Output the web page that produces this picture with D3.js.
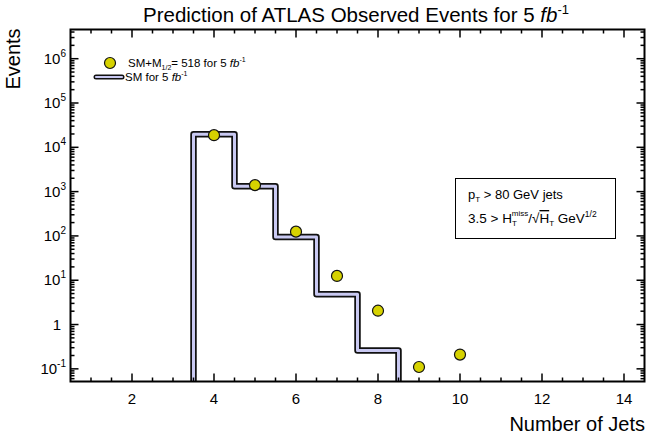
<!doctype html>
<html lang="en">
<head>
<meta charset="UTF-8">
<script src="https://cdnjs.cloudflare.com/ajax/libs/d3/7.8.5/d3.min.js"></script>
<title>ATLAS jets</title>
<style>
  body { margin: 0; background: #fff; }
  text { font-family: "Liberation Sans", Arial, sans-serif; fill: #000; }
</style>
</head>
<body>
<div id="chart"></div>
<script>
    // SM histogram, bins of one jet
    const smBinEdges = [3.5, 4.5, 5.5, 6.5, 7.5, 8.5];
    const smValues = [19800, 1330, 95, 4.8, 0.26];

    // SM + M1/2 = 518 points
    const sigJets = [4, 5, 6, 7, 8, 9, 10];
    const sigValues = [18800, 1400, 125, 12.5, 2.05, 0.11, 0.21];

    const xTickLabels = [2, 4, 6, 8, 10, 12, 14];
    const yDecades = [-1, 0, 1, 2, 3, 4, 5, 6];

    const W = 649, H = 438;
    const pL = 70.5, pR = 644.5, pT = 29.5, pB = 381.5;

    const svg = d3.select('#chart').append('svg')
        .attr('width', W).attr('height', H);

    const x = d3.scaleLinear().domain([0.5, 14.5]).range([pL, pR]);
    const y = d3.scaleLog().domain([0.0518, 4.56e6]).range([pB, pT]);

    // clip for the histogram so it runs off the bottom
    svg.append('clipPath').attr('id', 'plotclip')
        .append('rect').attr('x', pL).attr('y', pT)
        .attr('width', pR - pL).attr('height', pB - pT);

    // histogram step path
    const pts = [[smBinEdges[0], 1e-3]];
    smValues.forEach((v, i) => {
        pts.push([smBinEdges[i], v]);
        pts.push([smBinEdges[i + 1], v]);
    });
    pts.push([smBinEdges[smBinEdges.length - 1], 1e-3]);
    const line = d3.line().x(d => x(d[0])).y(d => y(d[1]));

    const hist = svg.append('g').attr('clip-path', 'url(#plotclip)');
    hist.append('path').attr('d', line(pts))
        .attr('fill', 'none').attr('stroke', '#111')
        .attr('stroke-width', 6.5).attr('stroke-linejoin', 'round');
    hist.append('path').attr('d', line(pts))
        .attr('fill', 'none').attr('stroke', '#c9c9f2')
        .attr('stroke-width', 3).attr('stroke-linejoin', 'round');

    // points
    svg.append('g').selectAll('circle')
        .data(sigJets.map((j, i) => [j, sigValues[i]]))
        .join('circle')
        .attr('cx', d => x(d[0])).attr('cy', d => y(d[1]))
        .attr('r', 5.5)
        .attr('fill', '#d6d200').attr('stroke', '#111').attr('stroke-width', 1.2);

    // frame
    svg.append('rect').attr('x', pL).attr('y', pT)
        .attr('width', pR - pL).attr('height', pB - pT)
        .attr('fill', 'none').attr('stroke', '#000').attr('stroke-width', 2);

    // x ticks (bottom + top, inward)
    const xMinor = d3.range(1, 14.5, 0.5);
    const ticks = svg.append('g').attr('stroke', '#000').attr('stroke-width', 1.5);
    xMinor.forEach(v => {
        const len = (v % 2 === 0) ? 8 : 4;
        ticks.append('line').attr('x1', x(v)).attr('x2', x(v))
            .attr('y1', pB).attr('y2', pB - len);
        ticks.append('line').attr('x1', x(v)).attr('x2', x(v))
            .attr('y1', pT).attr('y2', pT + len);
    });
    svg.append('g').selectAll('text').data(xTickLabels).join('text')
        .attr('x', d => x(d)).attr('y', 404)
        .attr('text-anchor', 'middle').attr('font-size', 15)
        .text(d => d);

    // y ticks (left + right, inward)
    const yMinor = [];
    for (let e = -2; e <= 6; e++) {
        for (let m = 1; m <= 9; m++) {
            const v = m * Math.pow(10, e);
            if (v >= y.domain()[0] && v <= y.domain()[1]) yMinor.push([v, m === 1]);
        }
    }
    yMinor.forEach(([v, major]) => {
        const len = major ? 8 : 4;
        ticks.append('line').attr('x1', pL).attr('x2', pL + len)
            .attr('y1', y(v)).attr('y2', y(v));
        ticks.append('line').attr('x1', pR).attr('x2', pR - len)
            .attr('y1', y(v)).attr('y2', y(v));
    });
    const yl = svg.append('g').selectAll('text').data(yDecades).join('text')
        .attr('x', d => d === 0 ? 61 : 66).attr('y', d => y(Math.pow(10, d)) + 5)
        .attr('text-anchor', 'end').attr('font-size', 15);
    yl.each(function (d) {
        const t = d3.select(this);
        if (d === 0) { t.text('1'); return; }
        t.append('tspan').text('10');
        t.append('tspan').attr('dy', -7).attr('font-size', 10).text(d);
    });

    // title
    const title = svg.append('text').attr('x', 356).attr('y', 22)
        .attr('text-anchor', 'middle').attr('font-size', 20.5);
    title.append('tspan').text('Prediction of ATLAS Observed Events for 5 ');
    title.append('tspan').attr('font-style', 'italic').text('fb');
    title.append('tspan').attr('dy', -8).attr('font-size', 13).text('-1');

    // axis titles
    svg.append('text').attr('transform', 'translate(20,59) rotate(-90)')
        .attr('text-anchor', 'middle').attr('font-size', 20).text('Events');
    svg.append('text').attr('x', 645).attr('y', 431)
        .attr('text-anchor', 'end').attr('font-size', 20).text('Number of Jets');

    // legend
    const lg = svg.append('g');
    lg.append('circle').attr('cx', 110).attr('cy', 63).attr('r', 5.5)
        .attr('fill', '#d6d200').attr('stroke', '#111').attr('stroke-width', 1.2);
    const l1 = lg.append('text').attr('x', 128).attr('y', 67).attr('font-size', 11.5);
    l1.append('tspan').text('SM+M');
    l1.append('tspan').attr('dy', 3).attr('font-size', 7).text('1/2');
    l1.append('tspan').attr('dy', -3).text('= 518 for 5 ');
    l1.append('tspan').attr('font-style', 'italic').text('fb');
    l1.append('tspan').attr('dy', -5).attr('font-size', 7).text('-1');
    lg.append('line').attr('x1', 96).attr('x2', 122).attr('y1', 77).attr('y2', 77)
        .attr('stroke', '#111').attr('stroke-width', 5).attr('stroke-linecap', 'round');
    lg.append('line').attr('x1', 96).attr('x2', 122).attr('y1', 77).attr('y2', 77)
        .attr('stroke', '#c9c9f2').attr('stroke-width', 2.2).attr('stroke-linecap', 'round');
    const l2 = lg.append('text').attr('x', 125).attr('y', 81).attr('font-size', 11.5);
    l2.append('tspan').text('SM for 5 ');
    l2.append('tspan').attr('font-style', 'italic').text('fb');
    l2.append('tspan').attr('dy', -5).attr('font-size', 7).text('-1');

    // cut box
    const box = svg.append('g');
    box.append('rect').attr('x', 455.5).attr('y', 178.5).attr('width', 160).attr('height', 60)
        .attr('fill', '#fff').attr('stroke', '#000').attr('stroke-width', 1);
    const b1 = box.append('text').attr('x', 468).attr('y', 199).attr('font-size', 13);
    b1.append('tspan').text('p');
    b1.append('tspan').attr('dy', 3).attr('font-size', 8).text('T');
    b1.append('tspan').attr('dy', -3).text(' > 80 GeV jets');
    const b2 = box.append('text').attr('x', 468).attr('y', 223).attr('font-size', 13.5);
    b2.append('tspan').text('3.5 > H');
    b2.append('tspan').attr('dy', 3).attr('font-size', 8).text('T');
    b2.append('tspan').attr('dx', -5).attr('dy', -10).attr('font-size', 8).text('miss');
    b2.append('tspan').attr('dy', 7).text('/\u221A');
    b2.append('tspan').attr('text-decoration', 'overline').text('H');
    b2.append('tspan').attr('dy', 3).attr('font-size', 8).text('T');
    b2.append('tspan').attr('dy', -3).text(' GeV');
    b2.append('tspan').attr('dy', -6).attr('font-size', 8.5).text('1/2');
</script>
</body>
</html>
